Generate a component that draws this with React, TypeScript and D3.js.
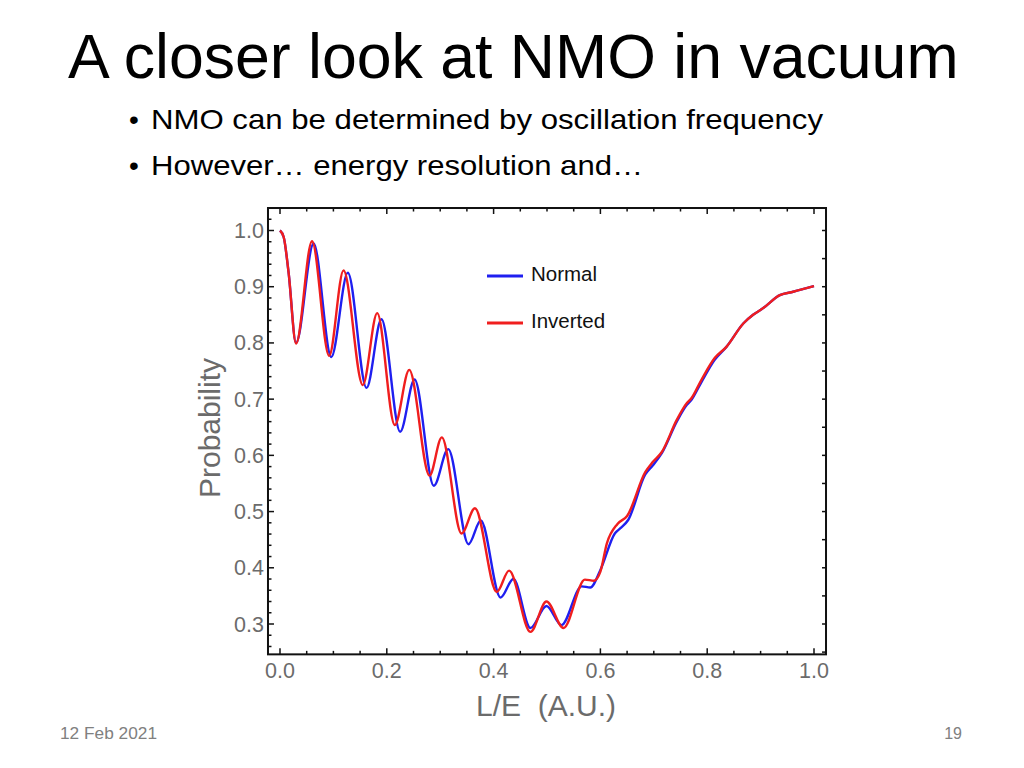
import React from 'react';
import * as d3 from 'd3';

// ---- data ----
const xTicks = [0, 0.2, 0.4, 0.6, 0.8, 1.0];
const yTicks = [0.3, 0.4, 0.5, 0.6, 0.7, 0.8, 0.9, 1.0];
const seriesNames = ['Normal', 'Inverted'];

const normalLE = [
  0.0, 0.007, 0.016, 0.03, 0.063, 0.096, 0.127, 0.162, 0.19, 0.225, 0.252, 0.288, 0.315,
  0.353, 0.376, 0.413, 0.437, 0.469, 0.499, 0.527, 0.565, 0.581, 0.6, 0.627, 0.637, 0.652,
  0.684, 0.698, 0.715, 0.743, 0.762, 0.77, 0.789, 0.814, 0.836, 0.868, 0.886, 0.905, 0.936,
  0.961, 1.0,
];
const normalP = [
  1.0, 0.988, 0.926, 0.8, 0.977, 0.775, 0.925, 0.72, 0.842, 0.642, 0.735, 0.546, 0.611,
  0.442, 0.484, 0.347, 0.38, 0.293, 0.332, 0.298, 0.367, 0.365, 0.396, 0.461, 0.47, 0.485,
  0.566, 0.582, 0.604, 0.66, 0.69, 0.698, 0.73, 0.77, 0.793, 0.835, 0.85, 0.862, 0.885,
  0.891, 0.901,
];

const invertedLE = [
  0.0, 0.007, 0.016, 0.03, 0.06, 0.092, 0.119, 0.155, 0.182, 0.215, 0.242, 0.28, 0.303,
  0.34, 0.365, 0.406, 0.429, 0.469, 0.499, 0.531, 0.571, 0.588, 0.6, 0.612, 0.632, 0.65,
  0.684, 0.698, 0.715, 0.743, 0.762, 0.77, 0.789, 0.814, 0.836, 0.868, 0.886, 0.905, 0.936,
  0.961, 1.0,
];
const invertedP = [
  1.0, 0.988, 0.926, 0.799, 0.981, 0.777, 0.929, 0.725, 0.853, 0.654, 0.752, 0.564, 0.632,
  0.461, 0.506, 0.357, 0.395, 0.286, 0.34, 0.293, 0.379, 0.377, 0.393, 0.443, 0.478, 0.492,
  0.57, 0.588, 0.606, 0.663, 0.693, 0.701, 0.734, 0.773, 0.793, 0.835, 0.85, 0.862, 0.885,
  0.891, 0.901,
];

const BLUE = '#1f1ff0';
const RED = '#f01e1e';
const SANS = '"Liberation Sans", Arial, Helvetica, sans-serif';
const TICK_GRAY = '#6b6b6b';

export default function App() {
  const x = d3.scaleLinear().domain([0, 1]).range([280, 814]);
  const y = d3.scaleLinear().domain([0.3, 1.0]).range([624, 230.5]);

  const left = x(-0.0225);
  const right = x(1.0225);
  const top = y(1.04);
  const bottom = y(0.246);

  const line = d3
    .line<[number, number]>()
    .x((d) => x(d[0]))
    .y((d) => y(d[1]))
    .curve(d3.curveMonotoneX);

  const normalPts: [number, number][] = normalLE.map((v, i) => [v, normalP[i]]);
  const invertedPts: [number, number][] = invertedLE.map((v, i) => [v, invertedP[i]]);

  const xMinor = d3.range(0, 1.0001, 0.05);
  const yMinor = d3.range(0.26, 1.031, 0.02);
  const rightTicks = d3.range(0.25, 1.031, 0.05);
  const fmt = d3.format('.1f');
  const isMajor = (v: number, step: number) => Math.abs(v / step - Math.round(v / step)) < 1e-6;

  const series = [
    { name: seriesNames[0], pts: normalPts, color: BLUE },
    { name: seriesNames[1], pts: invertedPts, color: RED },
  ];

  return (
    <svg
      width={1024}
      height={768}
      style={{ position: 'absolute', left: 0, top: 0, background: '#fff' }}
      fontFamily={SANS}
    >
      <rect x={0} y={0} width={1024} height={768} fill="#fff" />
      {/* slide title & bullets */}
      <text x={68} y={78} fontSize={62.6} fill="#000">
        A closer look at NMO in vacuum
      </text>
      <text x={129} y={129} fontSize={28} fill="#000">•</text>
      <text x={151} y={129} fontSize={28} fill="#000" textLength={672} lengthAdjust="spacingAndGlyphs">
        NMO can be determined by oscillation frequency
      </text>
      <text x={129} y={175} fontSize={28} fill="#000">•</text>
      <text x={151} y={175} fontSize={28} fill="#000" textLength={492} lengthAdjust="spacingAndGlyphs">
        However… energy resolution and…
      </text>

      {/* plot */}
      <g>
        {series.map((s) => (
          <path
            key={s.name}
            d={line(s.pts) || ''}
            fill="none"
            stroke={s.color}
            strokeWidth={2.4}
            strokeLinejoin="round"
          />
        ))}

        {/* frame */}
        <rect
          x={left}
          y={top}
          width={right - left}
          height={bottom - top}
          fill="none"
          stroke="#111"
          strokeWidth={2}
        />

        {/* bottom & top ticks */}
        {xMinor.map((v) => {
          const len = isMajor(v, 0.2) ? 6 : 3.5;
          return (
            <g key={'xt' + v}>
              <line x1={x(v)} x2={x(v)} y1={bottom} y2={bottom - len} stroke="#111" strokeWidth={1.5} />
              <line x1={x(v)} x2={x(v)} y1={top} y2={top + len} stroke="#111" strokeWidth={1.5} />
            </g>
          );
        })}
        {/* left ticks */}
        {yMinor.map((v) => {
          const len = isMajor(v, 0.1) ? 6 : 3.5;
          return (
            <line key={'yl' + v} x1={left} x2={left + len} y1={y(v)} y2={y(v)} stroke="#111" strokeWidth={1.5} />
          );
        })}
        {/* right ticks */}
        {rightTicks.map((v) => (
          <line key={'yr' + v} x1={right} x2={right - 4} y1={y(v)} y2={y(v)} stroke="#111" strokeWidth={1.5} />
        ))}

        {/* tick labels */}
        {xTicks.map((v) => (
          <text key={'xl' + v} x={x(v)} y={678} textAnchor="middle" fontSize={21.5} fill={TICK_GRAY}>
            {fmt(v)}
          </text>
        ))}
        {yTicks.map((v) => (
          <text key={'ylab' + v} x={264} y={y(v) + 7.5} textAnchor="end" fontSize={21.5} fill={TICK_GRAY}>
            {fmt(v)}
          </text>
        ))}

        {/* axis titles */}
        <text x={546} y={716} textAnchor="middle" fontSize={30} fill={TICK_GRAY} xmlSpace="preserve">
          L/E  (A.U.)
        </text>
        <text
          transform={`translate(220,428) rotate(-90)`}
          textAnchor="middle"
          fontSize={30}
          fill={TICK_GRAY}
        >
          Probability
        </text>

        {/* legend */}
        {series.map((s, i) => (
          <g key={'lg' + s.name} transform={`translate(487,${276 + i * 47})`}>
            <line x1={0} x2={36} y1={0} y2={0} stroke={s.color} strokeWidth={2.8} />
            <text x={44} y={5} fontSize={20.5} fill="#111">
              {s.name}
            </text>
          </g>
        ))}
      </g>

      {/* footer */}
      <text x={60} y={739} fontSize={16} fill="#808080" textLength={97} lengthAdjust="spacingAndGlyphs">
        12 Feb 2021
      </text>
      <text x={962} y={739} fontSize={16} fill="#808080" textAnchor="end">
        19
      </text>
    </svg>
  );
}
